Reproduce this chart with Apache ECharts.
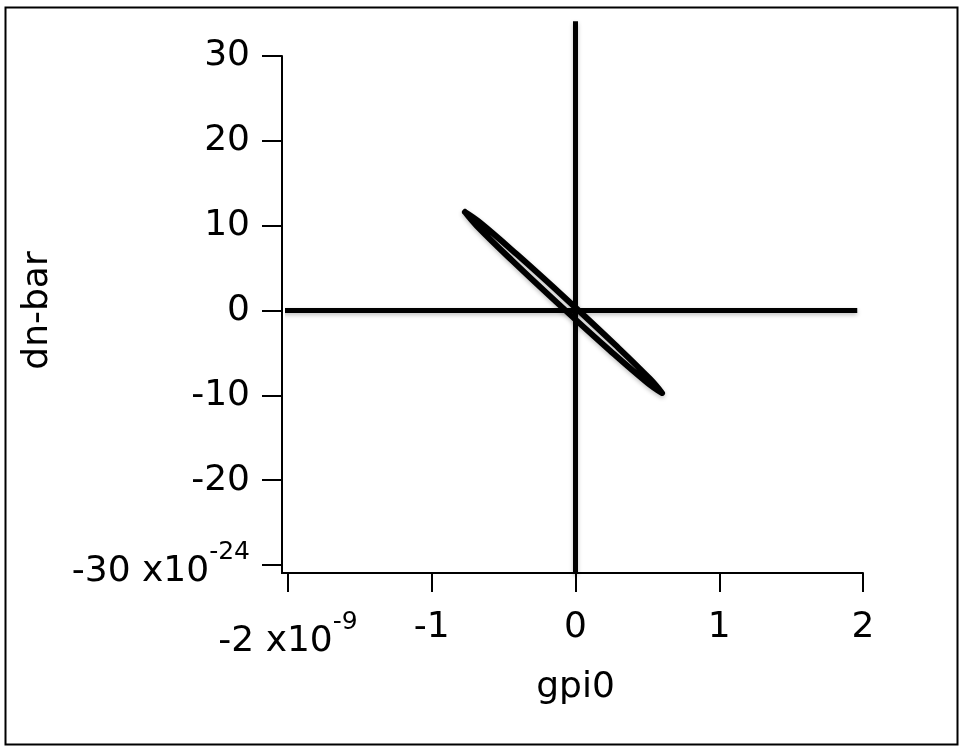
<!DOCTYPE html>
<html lang="en">
<head>
    <meta charset="utf-8">
    <title>gpi0 vs dn-bar</title>
    <script src="https://cdn.jsdelivr.net/npm/echarts@6/dist/echarts.min.js"></script>
    <style>
        html, body { margin: 0; padding: 0; background: #fff; }
        #chart { width: 964px; height: 752px; }
    </style>
</head>
<body>
<div id="chart"></div>
<script>
    // axis ranges (x in units of 1e-9, y in units of 1e-24)
    var xRange = [-2, 2];
    var yRange = [-30, 30];
    var xExp = '-9';
    var yExp = '-24';
    var xName = 'gpi0';
    var yName = 'dn-bar';

    // zero lines
    var hLineX = [-2.04, 1.96];
    var hLineY = [0, 0];
    var vLineX = [0, 0];
    var vLineY = [-31, 34.1];

    // the thin loop
    var loopX = [-0.769, -0.666, -0.408, -0.063, 0.277, 0.520, 0.602, 0.499, 0.241, -0.104, -0.444, -0.687, -0.769];
    var loopY = [11.61, 10.39, 6.62, 1.33, -4.06, -8.10, -9.73, -8.50, -4.74, 0.55, 5.94, 9.98, 11.61];

    function pairs(xs, ys) {
        return xs.map(function (x, i) { return [x, ys[i]]; });
    }

    var font = 'DejaVu Sans';
    var fs = 36;
    var lineShadow = {
        color: '#000',
        width: 5,
        shadowColor: 'rgba(0,0,0,0.25)',
        shadowBlur: 4,
        shadowOffsetY: 2
    };
    var richLabel = {
        b: { fontSize: fs, fontFamily: font, color: '#000', verticalAlign: 'bottom' },
        s: { fontSize: 25, fontFamily: font, color: '#000', verticalAlign: 'bottom', padding: [0, 0, 25, 0] }
    };

    var chart = echarts.init(document.getElementById('chart'));
    chart.setOption({
        animation: false,
        backgroundColor: '#fff',
        graphic: [
            {
                type: 'rect',
                shape: { x: 5.5, y: 7.5, width: 952, height: 737 },
                style: { fill: 'none', stroke: '#000', lineWidth: 2 }
            },
            {
                // corner where the offset axes meet
                type: 'polyline',
                shape: { points: [[282, 564], [282, 573], [289, 573]] },
                style: { fill: 'none', stroke: '#000', lineWidth: 2 }
            }
        ],
        grid: { left: 288, right: 101, top: 56, bottom: 187 },
        xAxis: {
            type: 'value',
            min: xRange[0],
            max: xRange[1],
            interval: 1,
            offset: 8,
            name: xName,
            nameLocation: 'middle',
            nameGap: 97,
            nameTextStyle: { fontSize: fs, fontFamily: font, color: '#000' },
            splitLine: { show: false },
            axisLine: { onZero: false, lineStyle: { color: '#000', width: 2 } },
            axisTick: { length: 19, lineStyle: { color: '#000', width: 2 } },
            axisLabel: {
                margin: 37,
                fontSize: fs,
                fontFamily: font,
                color: '#000',
                formatter: function (v) {
                    if (v === xRange[0]) return '{b|' + v + ' x10}{s|' + xExp + '}';
                    return v;
                },
                rich: richLabel
            }
        },
        yAxis: {
            type: 'value',
            min: yRange[0],
            max: yRange[1],
            interval: 10,
            offset: 6,
            name: yName,
            nameLocation: 'middle',
            nameGap: 226,
            nameTextStyle: { fontSize: fs, fontFamily: font, color: '#000' },
            splitLine: { show: false },
            axisLine: { onZero: false, lineStyle: { color: '#000', width: 2 } },
            axisTick: { length: 20, lineStyle: { color: '#000', width: 2 } },
            axisLabel: {
                margin: 32,
                fontSize: fs,
                fontFamily: font,
                color: '#000',
                formatter: function (v) {
                    if (v === yRange[0]) return '{b|' + v + ' x10}{s|' + yExp + '}';
                    return v;
                },
                rich: richLabel
            }
        },
        series: [
            {
                type: 'line',
                data: pairs(hLineX, hLineY),
                showSymbol: false,
                clip: false,
                lineStyle: lineShadow
            },
            {
                type: 'line',
                data: pairs(vLineX, vLineY),
                showSymbol: false,
                clip: false,
                lineStyle: lineShadow
            },
            {
                type: 'line',
                data: pairs(loopX, loopY),
                showSymbol: false,
                smooth: 0.4,
                clip: false,
                lineStyle: { color: '#000', width: 6, join: 'round', cap: 'round',
                    shadowColor: 'rgba(0,0,0,0.25)', shadowBlur: 4, shadowOffsetY: 2 }
            }
        ]
    });
</script>
</body>
</html>
